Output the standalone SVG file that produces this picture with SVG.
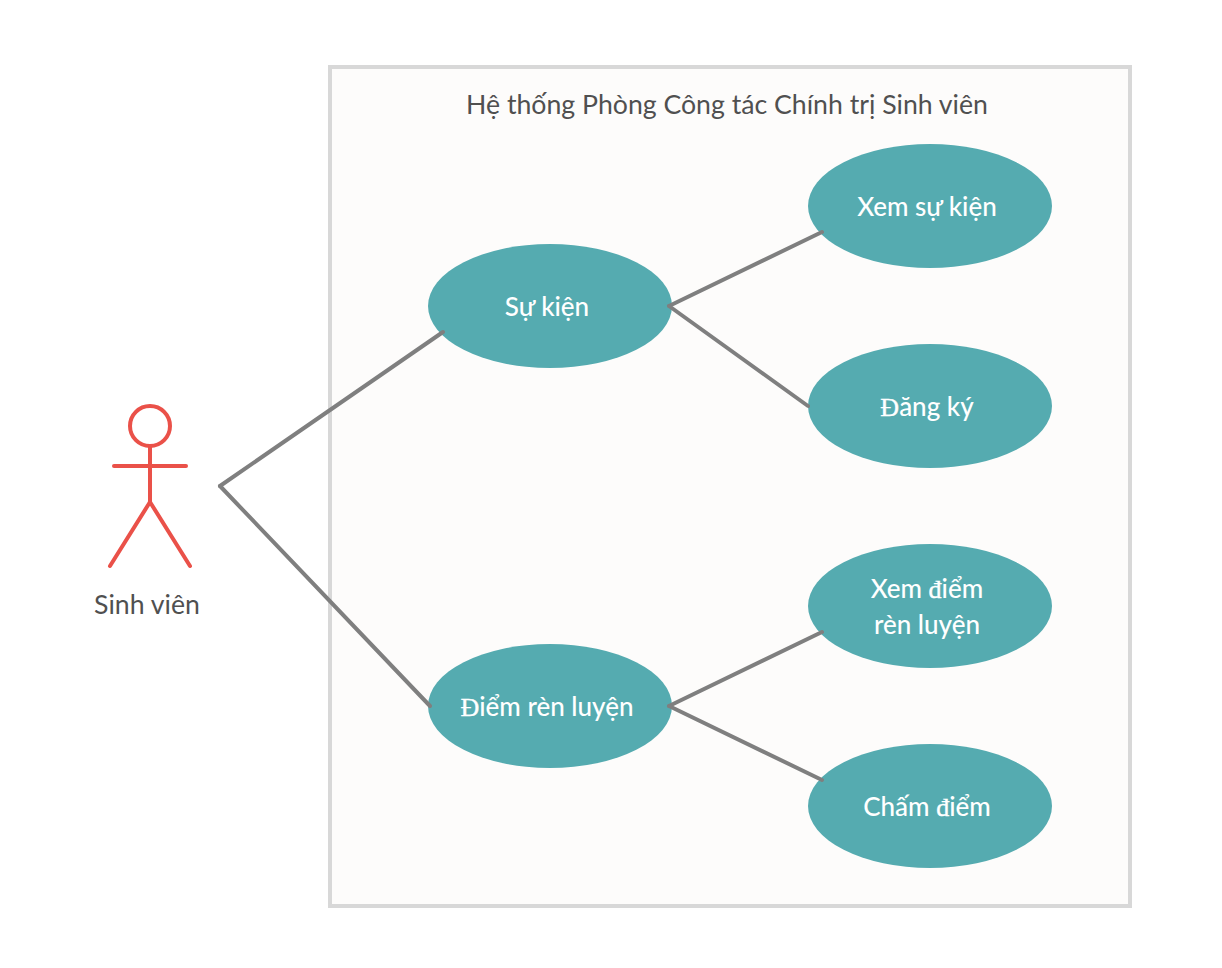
<svg xmlns="http://www.w3.org/2000/svg" width="1222" height="968" viewBox="0 0 1222 968">
<style>
text{font-family:Lato,"Noto Sans",sans-serif;font-size:26px;text-anchor:middle}
.s{font-family:"Liberation Serif",serif;stroke:#fff;stroke-width:.4}
.u ellipse{fill:#55abb0}
.u text{fill:#fff;font-weight:500}
text.d{fill:#505050;font-size:26.67px}
.c line{stroke:#7f7f7f;stroke-width:4;stroke-linecap:round}
.a *{stroke:#ea5149;stroke-width:4;fill:none;stroke-linecap:round}
</style>
<rect width="1222" height="968" fill="#fff"/>
<g id="system"><rect x="330" y="67" width="800" height="839" fill="#fdfcfb" stroke="#d8d8d8" stroke-width="4"/>
<text class="d" x="727" y="114">Hệ thống Phòng Công tác Chính trị Sinh viên</text></g>
<g id="actor"><g class="a"><circle cx="150" cy="426" r="20"/><line x1="150" y1="446" x2="150" y2="502"/><line x1="114" y1="466" x2="186" y2="466"/><line x1="150" y1="502" x2="110" y2="566"/><line x1="150" y1="502" x2="190" y2="566"/></g>
<text class="d" x="147" y="614">Sinh viên</text></g>
<g class="u" id="su-kien"><ellipse cx="550" cy="306" rx="122" ry="62"/><text x="547" y="316">Sự kiện</text></g>
<g class="u" id="xem-su-kien"><ellipse cx="930" cy="206" rx="122" ry="62"/><text x="927" y="216">Xem sự kiện</text></g>
<g class="u" id="dang-ky"><ellipse cx="930" cy="406" rx="122" ry="62"/><text x="927" y="416"><tspan class="s">Đ</tspan>ăng ký</text></g>
<g class="u" id="xem-diem"><ellipse cx="930" cy="606" rx="122" ry="62"/><text x="927" y="598">Xem <tspan class="s">đ</tspan>iểm</text><text x="927" y="634">rèn luyện</text></g>
<g class="u" id="diem-ren-luyen"><ellipse cx="550" cy="706" rx="122" ry="62"/><text x="547" y="716"><tspan class="s">Đ</tspan>iểm rèn luyện</text></g>
<g class="u" id="cham-diem"><ellipse cx="930" cy="806" rx="122" ry="62"/><text x="927" y="816">Chấm <tspan class="s">đ</tspan>iểm</text></g>
<g class="c" id="connectors">
<line x1="220" y1="486" x2="443" y2="332"/>
<line x1="220" y1="486" x2="430" y2="706"/>
<line x1="669" y1="306" x2="822" y2="232"/>
<line x1="669" y1="306" x2="808" y2="406"/>
<line x1="669" y1="706" x2="822" y2="632"/>
<line x1="669" y1="706" x2="822" y2="780"/>
</g>
</svg>
